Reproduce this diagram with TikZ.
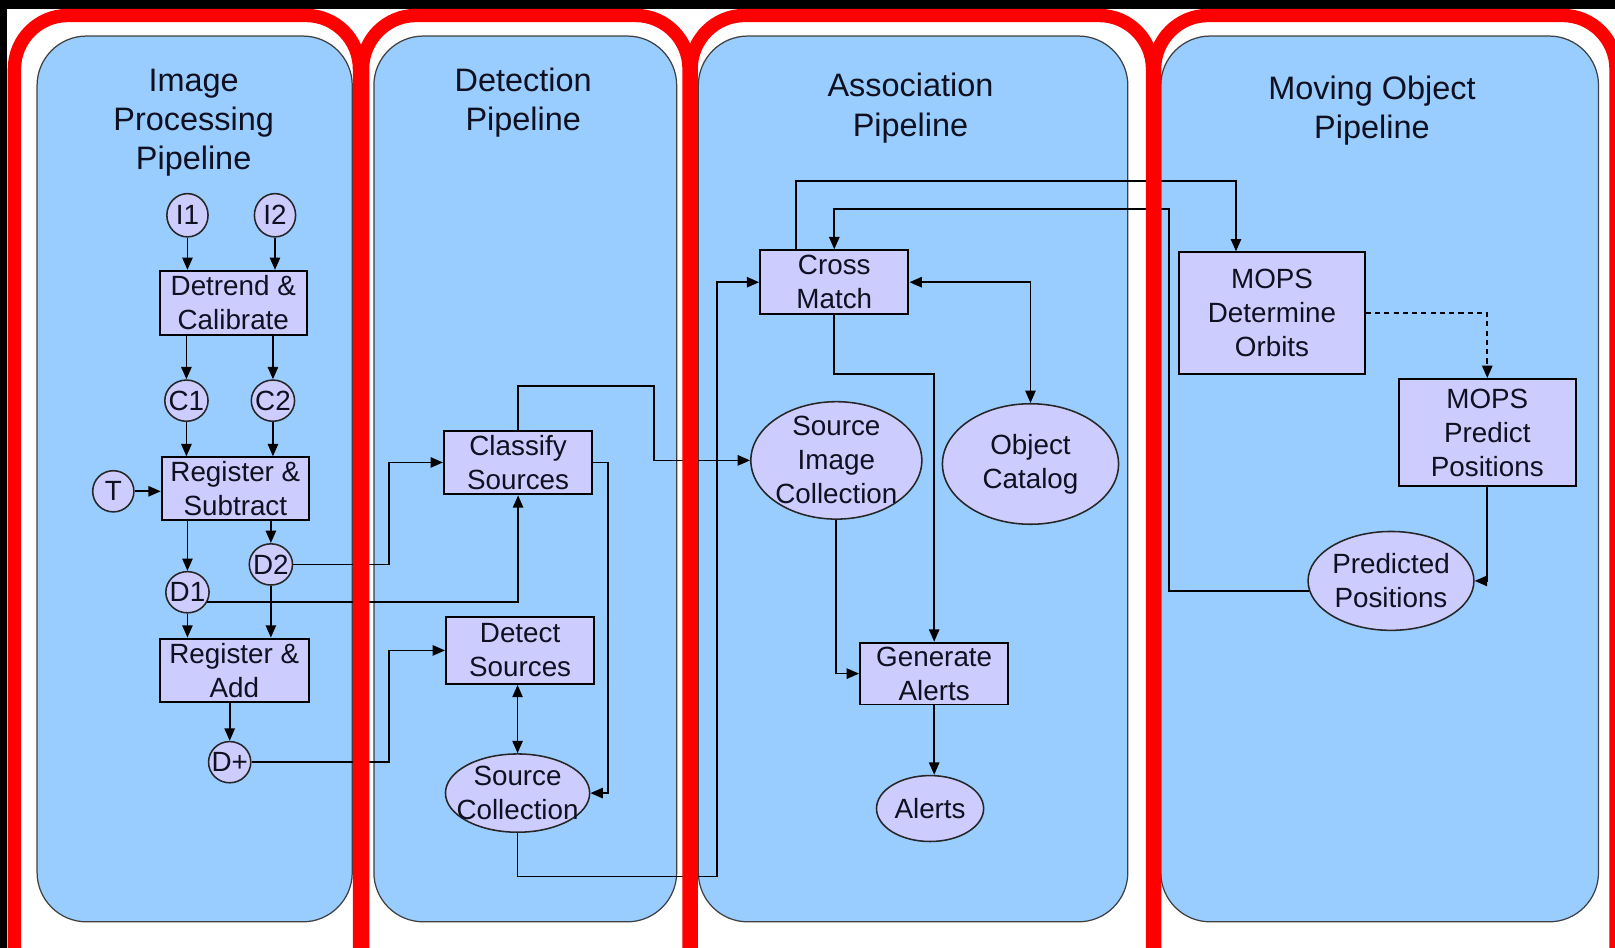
\documentclass[tikz,border=0pt]{standalone}
\usepackage{fontspec}
\setmainfont{Liberation Sans}
\usetikzlibrary{arrows.meta,shapes.geometric,calc}

\definecolor{panelblue}{HTML}{99CCFF}
\definecolor{nodefill}{HTML}{CCCCFF}
\definecolor{framered}{HTML}{FF0000}
\definecolor{inkc}{HTML}{101020}

\begin{document}
\begin{tikzpicture}[x=1pt,y=-1pt,
  boxnode/.style={rectangle, draw=black, line width=1.9pt, fill=nodefill,
    inner sep=0pt, align=center, text=inkc, font=\fontsize{27}{33}\selectfont},
  datanode/.style={ellipse, draw=black!85, line width=1.5pt, fill=nodefill, inner sep=0pt},
  datatext/.style={align=center, text=inkc, font=\fontsize{27}{33}\selectfont},
  titletext/.style={align=center, text=inkc, font=\fontsize{31.5}{38}\selectfont},
  arrowline/.style={draw=black, line width=1.7pt, -{Triangle[length=12pt,width=10pt]}},
  twoway/.style={arrowline, {Triangle[length=12pt,width=10pt]}-{Triangle[length=12pt,width=10pt]}},
  pipepanel/.style={draw=black!75, line width=1.2pt, fill=panelblue, rounded corners=48pt},
  pipeframe/.style={draw=framered, line width=13pt, rounded corners=52pt},
]
\useasboundingbox (0,0) rectangle (1568,920);

% page background
\fill[black] (0,0) rectangle (1568,920);
\fill[white] (7,9) rectangle (1568,920);

% pipeline panels
\draw[pipepanel] (36,35) rectangle (342,895);
\draw[pipepanel] (363,35) rectangle (657,895);
\draw[pipepanel] (678,35) rectangle (1095,895);
\draw[pipepanel] (1127,35) rectangle (1552,895);

% panel titles
\node[titletext] (tip)  at (188,119)  {Image\\Processing\\Pipeline};
\node[titletext] (tdp)  at (508,100)  {Detection\\Pipeline};
\node[titletext] (tap)  at (884,105)  {Association\\Pipeline};
\node[titletext] (tmop) at (1332,107) {Moving Object\\Pipeline};

% image processing pipeline
\node[datanode, minimum width=40pt, minimum height=42pt, label={[datatext]center:I1}] (i1) at (182,209) {};
\node[datanode, minimum width=40pt, minimum height=42pt, label={[datatext]center:I2}] (i2) at (267,209) {};
\node[boxnode, minimum width=143pt, minimum height=62pt] (dc) at (226.5,294) {Detrend \&\\Calibrate};
\node[datanode, minimum width=42pt, minimum height=40pt, label={[datatext]center:C1}] (c1) at (181,389) {};
\node[datanode, minimum width=42pt, minimum height=40pt, label={[datatext]center:C2}] (c2) at (265,389) {};
\node[datanode, minimum width=40pt, minimum height=40pt, label={[datatext]center:T}] (t) at (110,477) {};
\node[boxnode, minimum width=143pt, minimum height=61pt] (rs) at (228.5,474.5) {Register \&\\Subtract};
\node[datanode, minimum width=42pt, minimum height=40pt, label={[datatext]center:D2}] (d2) at (263,548) {};
\node[datanode, minimum width=42pt, minimum height=40pt, label={[datatext]center:D1}] (d1) at (182,575) {};
\node[boxnode, minimum width=145pt, minimum height=62pt] (ra) at (227.5,651) {Register \&\\Add};
\node[datanode, minimum width=41pt, minimum height=40pt, label={[datatext]center:D+}] (dp) at (223,740) {};

% detection pipeline
\node[boxnode, minimum width=144pt, minimum height=62pt] (cs) at (503,449) {Classify\\Sources};
\node[boxnode, minimum width=144pt, minimum height=65pt] (ds) at (505,631.5) {Detect\\Sources};
\node[datanode, minimum width=140pt, minimum height=76pt, label={[datatext]center:{Source\\Collection}}] (sc) at (502.5,770) {};

% association pipeline
\node[boxnode, minimum width=144pt, minimum height=62pt] (cm) at (810,274) {Cross\\Match};
\node[datanode, minimum width=166pt, minimum height=114pt, label={[datatext]center:{Source\\Image\\Collection}}] (sic) at (812,447) {};
\node[datanode, minimum width=171pt, minimum height=117pt, label={[datatext]center:{Object\\Catalog}}] (oc) at (1000.5,450.5) {};
\node[boxnode, minimum width=144pt, minimum height=60pt] (ga) at (907,654) {Generate\\Alerts};
\node[datanode, minimum width=104pt, minimum height=64pt, label={[datatext]center:Alerts}] (al) at (903,785) {};

% moving object pipeline
\node[boxnode, minimum width=180pt, minimum height=118pt] (mdo) at (1235,304) {MOPS\\Determine\\Orbits};
\node[boxnode, minimum width=172pt, minimum height=104pt] (mpp) at (1444,420) {MOPS\\Predict\\Positions};
\node[datanode, minimum width=161pt, minimum height=96pt, label={[datatext]center:{Predicted\\Positions}}] (pp) at (1350.5,564) {};

% bend points of the routed connectors
\coordinate (j1) at (378,449);
\coordinate (j2) at (378,631.5);
\coordinate (j3) at (590,449);
\coordinate (j4) at (635,375);
\coordinate (j5) at (696,851);
\coordinate (j6) at (907,363);
\coordinate (b1) at (773,176);
\coordinate (b2) at (1200,176);
\coordinate (b3) at (1135,203);

% connectors inside the image processing pipeline
\draw[arrowline] (i1.south) -- (i1.south |- dc.north);
\draw[arrowline] (i2.south) -- (i2.south |- dc.north);
\draw[arrowline] (dc.south -| c1) -- (c1.north);
\draw[arrowline] (dc.south -| c2) -- (c2.north);
\draw[arrowline] (c1.south) -- (c1.south |- rs.north);
\draw[arrowline] (c2.south) -- (c2.south |- rs.north);
\draw[arrowline] (t.east) -- (t.east -| rs.west);
\draw[arrowline] (rs.south -| d1) -- (d1.north);
\draw[arrowline] (rs.south -| d2) -- (d2.north);
\draw[arrowline] (d1.south) -- (d1.south |- ra.north);
\draw[arrowline] (d2.south) -- (d2.south |- ra.north);
\draw[arrowline] (ra.south -| dp) -- (dp.north);

% into and within the detection pipeline
\draw[arrowline] (d2.east) -| (j1) -- (cs.west);
\draw[arrowline] (d1.-26) -| (cs.south);
\draw[arrowline] (dp.east) -| (j2) -- (ds.west);
\draw[twoway] (sc.north |- ds.south) -- (sc.north);
\draw[arrowline] (cs.east) -- (j3) |- (sc.east);

% into and within the association pipeline
\draw[arrowline] (cs.north) |- (j4) |- (sic.west);
\draw[arrowline] (sc.south) |- (j5) |- (cm.west);
\draw[twoway] (cm.east) -| (oc.north);
\draw[arrowline] (cm.south) |- (j6) -- (j6 |- ga.north);
\draw[arrowline] (sic.south) |- (ga.west);
\draw[arrowline] (ga.south) -- (ga.south |- al.north);

% moving object pipeline loop
\draw[arrowline] (cm.north -| b1) -- (b1) -- (b2) -- (b2 |- mdo.north);
\draw[arrowline, dash pattern=on 5pt off 4pt] (mdo.east) -| (mpp.north);
\draw[arrowline] (mpp.south) |- (pp.east);
\draw[arrowline] (pp.187) -| (b3) -| (cm.north);

% red frames drawn over everything
\draw[pipeframe] (14,930) -- (14,15) -- (349,15) -- (349,930);
\draw[pipeframe] (352,930) -- (352,15) -- (669,15) -- (669,930);
\draw[pipeframe] (671,930) -- (671,15) -- (1119,15) -- (1119,930);
\draw[pipeframe] (1121,930) -- (1121,15) -- (1569,15) -- (1569,930);
\end{tikzpicture}
\end{document}
